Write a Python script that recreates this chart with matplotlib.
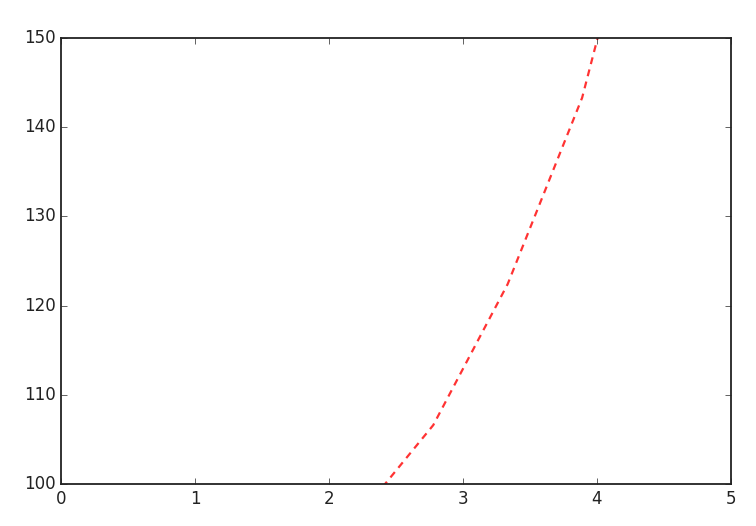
import numpy as np
import matplotlib
matplotlib.use("Agg")
import matplotlib.pyplot as plt

plt.style.use("classic")

# visible part of the curve (x steps of 5/9)
x = [2.222, 2.778, 3.333, 3.889, 4.444]
y = [96.4, 106.6, 122.4, 143.3, 175.5]

fig = plt.figure(figsize=(7.56, 5.26), dpi=100, facecolor="white")
ax = fig.add_axes([61/756, 42/526, 670/756, 446/526])
ax.plot(x, y, "r--", alpha=0.8, linewidth=1.6, dashes=(5, 4))

ax.set_xlim(0, 5)
ax.set_ylim(100, 150)
ax.tick_params(labelsize=12, colors="#222222")
for s in ax.spines.values():
    s.set_linewidth(1.3)
    s.set_color("#222222")

fig.savefig("out.png", dpi=100, facecolor="white")
